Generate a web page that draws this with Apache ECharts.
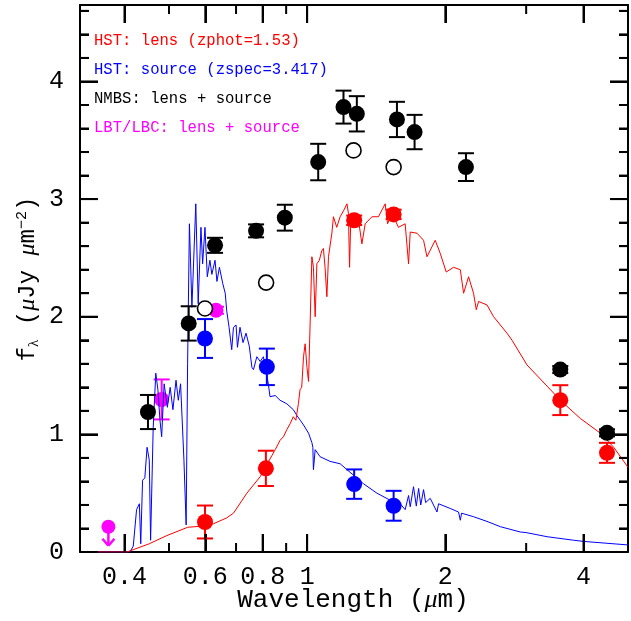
<!DOCTYPE html>
<html>
<head>
<meta charset="utf-8">
<script src="https://cdn.jsdelivr.net/npm/echarts@6/dist/echarts.min.js"></script>
<style>
html,body{margin:0;padding:0;background:#fff;overflow:hidden;}
#chart{width:631px;height:621px;}
</style>
</head>
<body>
<div id="chart"></div>
<script>
// ---- tick positions ----
const xMajorTicks = [0.4, 0.6, 0.8, 1, 2, 4];
const xMinorTicks = [0.5, 0.7, 0.9, 3];
const yMajorTicks = [0, 1, 2, 3, 4];
const yMinorTicks = [0.2, 0.4, 0.6, 0.8, 1.2, 1.4, 1.6, 1.8, 2.2, 2.4, 2.6, 2.8, 3.2, 3.4, 3.6, 3.8, 4.2, 4.4, 4.6];

// ---- NMBS: lens + source (filled black) ----
const nmbsLam  = [0.450, 0.552, 0.630, 0.774, 0.894, 1.057, 1.200, 1.283, 1.569, 1.714, 2.218, 3.56, 4.50];
const nmbsFlux = [1.19, 1.943, 2.607, 2.73, 2.842, 3.315, 3.782, 3.725, 3.677, 3.57, 3.272, 1.551, 1.013];
const nmbsErr  = [0.145, 0.146, 0.064, 0.055, 0.11, 0.155, 0.14, 0.15, 0.15, 0.146, 0.118, 0.03, 0.03];

// ---- NMBS open circles ----
const openLam  = [0.599, 0.814, 1.262, 1.543];
const openFlux = [2.07, 2.29, 3.414, 3.272];

// ---- HST: lens ----
const lensLam  = [0.599, 0.813, 1.266, 1.543, 3.56, 4.50];
const lensFlux = [0.255, 0.711, 2.82, 2.87, 1.291, 0.843];
const lensErr  = [0.14, 0.15, 0.04, 0.04, 0.127, 0.085];

// ---- HST: source ----
const srcLam  = [0.599, 0.817, 1.266, 1.543];
const srcFlux = [1.815, 1.574, 0.577, 0.393];
const srcErr  = [0.165, 0.155, 0.125, 0.127];

// ---- LBT/LBC ----
const lbtLam  = [0.482, 0.633];
const lbtFlux = [1.297, 2.055];
const lbtErr  = [0.17, 0.03];
const lbtLimLam  = [0.369];
const lbtLimFlux = [0.215];

// ---- source model spectrum (blue) ----
const blueSpecLam = [0.320,0.411,0.418,0.425,0.431,0.434,0.438,0.443,0.448,0.453,0.456,0.462,0.468,0.473,0.478,0.482,0.488,0.496,0.503,0.510,0.518,0.524,0.530,0.539,0.545,0.549,0.554,0.561,0.572,0.579,0.587,0.592,0.599,0.606,0.614,0.620,0.630,0.636,0.644,0.655,0.663,0.668,0.676,0.685,0.691,0.700,0.705,0.714,0.725,0.736,0.748,0.758,0.764,0.777,0.790,0.803,0.823,0.830,0.852,0.873,0.903,0.933,0.950,0.966,0.982,1.007,1.024,1.029,1.032,1.041,1.067,1.122,1.180,1.221,1.327,1.419,1.517,1.595,1.635,1.663,1.677,1.705,1.729,1.749,1.768,1.793,1.812,1.854,1.918,1.933,2.050,2.137,2.156,2.170,2.304,2.465,2.636,2.914,3.000,3.332,3.807,4.003,5.000];
const blueSpecFlux = [0,0,0.05,0.36,0.41,0.07,0.61,0.63,0.89,0.78,0.10,1.06,1.52,1.38,1.12,0.98,1.43,1.23,1.40,1.21,1.46,1.29,1.43,0.78,0.23,1.60,2.79,2.08,2.96,2.11,2.76,2.45,2.76,2.34,2.48,2.36,2.48,2.30,2.42,2.28,2.20,2.05,1.91,1.72,1.91,1.93,1.74,1.91,1.78,1.86,1.75,1.57,1.55,1.66,1.62,1.66,1.43,1.32,1.33,1.29,1.26,1.21,1.16,1.12,1.08,1.01,0.93,0.89,0.70,0.87,0.81,0.77,0.75,0.70,0.58,0.50,0.44,0.41,0.36,0.48,0.385,0.555,0.39,0.54,0.40,0.53,0.42,0.456,0.34,0.41,0.37,0.34,0.27,0.33,0.30,0.26,0.215,0.17,0.165,0.13,0.10,0.09,0.06];

// ---- lens model spectrum (red) ----
const redSpecLam = [0.320,0.405,0.418,0.453,0.495,0.549,0.592,0.625,0.668,0.691,0.739,0.790,0.838,0.852,0.873,0.888,0.903,0.918,0.933,0.945,0.957,0.965,0.973,0.982,0.990,0.999,1.007,1.015,1.024,1.032,1.041,1.050,1.063,1.076,1.085,1.094,1.104,1.113,1.132,1.141,1.160,1.180,1.200,1.221,1.230,1.237,1.245,1.270,1.294,1.316,1.338,1.384,1.430,1.479,1.497,1.530,1.581,1.635,1.663,1.677,1.735,1.793,1.824,1.901,1.949,2.009,2.084,2.156,2.192,2.247,2.304,2.336,2.363,2.465,2.548,2.725,2.795,3.013,3.332,3.561,3.937,4.354,4.655,5.000];
const redSpecFlux = [0,0,0.02,0.07,0.14,0.21,0.22,0.24,0.29,0.33,0.50,0.64,0.82,0.87,0.95,0.98,1.04,1.09,1.15,1.12,1.26,1.38,1.40,1.66,1.77,1.57,1.45,1.94,2.51,2.42,2.00,2.45,2.48,2.56,2.58,2.42,2.17,2.51,2.71,2.85,2.76,2.85,2.90,2.96,2.88,2.42,2.85,2.79,2.82,2.62,2.79,2.85,2.85,2.96,2.79,2.88,2.76,2.79,2.45,2.72,2.71,2.65,2.51,2.65,2.54,2.38,2.42,2.40,2.20,2.34,2.20,2.06,2.13,2.10,2.00,1.86,1.80,1.59,1.41,1.29,1.135,1.01,0.89,0.72];

const L = Math.log10;
const XMIN = L(0.32), XMAX = L(5), YMIN = 0, YMAX = 4.65;
const pairs = (lam, f) => lam.map((v, i) => [L(v), f[i]]);
const triples = (lam, f, e) => lam.map((v, i) => [L(v), f[i], e[i]]);

function errRender(color) {
  return function (params, api) {
    const x = api.value(0), y = api.value(1), e = api.value(2);
    const t = api.coord([x, y + e]), b = api.coord([x, y - e]);
    const hw = 8, st = {stroke: color, lineWidth: 2};
    return {type: 'group', children: [
      {type: 'line', shape: {x1: t[0], y1: t[1], x2: b[0], y2: b[1]}, style: st},
      {type: 'line', shape: {x1: t[0] - hw, y1: t[1], x2: t[0] + hw, y2: t[1]}, style: st},
      {type: 'line', shape: {x1: b[0] - hw, y1: b[1], x2: b[0] + hw, y2: b[1]}, style: st}
    ]};
  };
}
function arrowRender(color) {
  return function (params, api) {
    const p = api.coord([api.value(0), api.value(1)]);
    const tip = p[1] + 19, st = {stroke: color, lineWidth: 2.5};
    return {type: 'group', children: [
      {type: 'line', shape: {x1: p[0], y1: p[1], x2: p[0], y2: tip}, style: st},
      {type: 'line', shape: {x1: p[0] - 6, y1: tip - 7, x2: p[0], y2: tip}, style: st},
      {type: 'line', shape: {x1: p[0] + 6, y1: tip - 7, x2: p[0], y2: tip}, style: st}
    ]};
  };
}

const FONT = '"Liberation Mono", "Courier New", monospace';
const fmtX = v => { const w = Math.pow(10, v); const r = Math.round(w * 10) / 10; return Number.isInteger(r) ? String(r) : r.toFixed(1); };

function xAx(pos, labels) {
  return {
    type: 'value', min: XMIN, max: XMAX, position: pos,
    axisLine: {show: true, onZero: false, lineStyle: {color: '#000', width: 2}}, splitLine: {show: false},
    axisTick: {show: true, inside: true, length: 18, customValues: xMajorTicks.map(L), lineStyle: {color: '#000', width: 2}},
    axisLabel: labels ? {show: true, customValues: xMajorTicks.map(L), formatter: fmtX, margin: 13,
      fontFamily: FONT, fontSize: 25, color: '#000'} : {show: false}
  };
}
function yAx(pos, labels) {
  return {
    type: 'value', min: YMIN, max: YMAX, interval: 1, position: pos,
    axisLine: {show: true, onZero: false, lineStyle: {color: '#000', width: 2}}, splitLine: {show: false},
    axisTick: {show: true, inside: true, length: 18, lineStyle: {color: '#000', width: 2}},
    minorTick: {show: true, splitNumber: 5, length: 9, lineStyle: {color: '#000', width: 2}},
    axisLabel: labels ? {show: true, margin: 16, fontFamily: FONT, fontSize: 25, color: '#000',
      formatter: v => (v > 4.5 ? '' : String(v))} : {show: false}
  };
}
const solid = c => ({color: c, opacity: 1});

const textGraphics = [
  {type: 'text', left: 94, top: 33, z: 50, style: {text: 'HST: lens (zphot=1.53)', fill: '#ff0000', font: '15.6px ' + FONT}},
  {type: 'text', left: 94, top: 62, z: 50, style: {text: 'HST: source (zspec=3.417)', fill: '#0000ff', font: '15.6px ' + FONT}},
  {type: 'text', left: 94, top: 91, z: 50, style: {text: 'NMBS: lens + source', fill: '#000', font: '15.6px ' + FONT}},
  {type: 'text', left: 94, top: 120, z: 50, style: {text: 'LBT/LBC: lens + source', fill: '#ff00ff', font: '15.6px ' + FONT}},
  {type: 'text', x: 353, y: 600, z: 50, style: {
    text: '{a|Wavelength (}{i|μ}{a|m)}', align: 'center', verticalAlign: 'middle',
    rich: {a: {font: '26px ' + FONT, fill: '#000'}, i: {font: 'italic 26px "Liberation Serif", serif', fill: '#000'}}}},
  {type: 'text', x: 28, y: 279, rotation: Math.PI / 2, z: 50, style: {
    text: '{a|f}{s|λ}{a| (}{i|μ}{a|Jy }{i|μ}{a|m}{p|−2}{a|)}', align: 'center', verticalAlign: 'middle',
    rich: {
      a: {font: '24px ' + FONT, fill: '#000', lineHeight: 34, verticalAlign: 'middle'},
      i: {font: 'italic 24px "Liberation Serif", serif', fill: '#000', lineHeight: 34, verticalAlign: 'middle'},
      s: {font: '15px "Liberation Serif", serif', fill: '#000', lineHeight: 34, verticalAlign: 'bottom', padding: [0, 0, 3, 0]},
      p: {font: '15px ' + FONT, fill: '#000', lineHeight: 34, verticalAlign: 'top', padding: [4, 0, 0, 0]}
    }}}
];

const chart = echarts.init(document.getElementById('chart'));
chart.setOption({
  animation: false,
  backgroundColor: '#fff',
  grid: {left: 80, right: 3, top: 5, bottom: 69},
  xAxis: [xAx('bottom', true), xAx('top', false)],
  yAxis: [yAx('left', true), yAx('right', false)],
  series: [
    {type: 'custom', name: 'lbtErr', renderItem: errRender('#ff00ff'), data: triples(lbtLam, lbtFlux, lbtErr), z: 2},
    {type: 'custom', name: 'lbtLim', renderItem: arrowRender('#ff00ff'), data: pairs(lbtLimLam, lbtLimFlux), z: 2},
    {type: 'scatter', name: 'lbtLimPt', data: pairs(lbtLimLam, lbtLimFlux), symbolSize: 14, itemStyle: solid('#ff00ff'), z: 2},
    {type: 'scatter', name: 'lbt', data: pairs(lbtLam, lbtFlux), symbolSize: 15, itemStyle: solid('#ff00ff'), z: 2},
    {type: 'line', name: 'srcSpec', data: pairs(blueSpecLam, blueSpecFlux), showSymbol: false, lineStyle: {color: '#0000ff', width: 1}, z: 3},
    {type: 'line', name: 'lensSpec', data: pairs(redSpecLam, redSpecFlux), showSymbol: false, lineStyle: {color: '#ff0000', width: 1}, z: 3},
    {type: 'custom', name: 'nmbsErr', renderItem: errRender('#000'), data: triples(nmbsLam, nmbsFlux, nmbsErr), z: 4},
    {type: 'scatter', name: 'nmbs', data: pairs(nmbsLam, nmbsFlux), symbolSize: 16, itemStyle: solid('#000'), z: 4},
    {type: 'scatter', name: 'open', data: pairs(openLam, openFlux), symbolSize: 15, itemStyle: {color: '#fff', opacity: 1, borderColor: '#000', borderWidth: 1.6}, z: 5},
    {type: 'custom', name: 'lensErr', renderItem: errRender('#ff0000'), data: triples(lensLam, lensFlux, lensErr), z: 5},
    {type: 'scatter', name: 'lens', data: pairs(lensLam, lensFlux), symbolSize: 16, itemStyle: solid('#ff0000'), z: 5},
    {type: 'custom', name: 'srcErr', renderItem: errRender('#0000ff'), data: triples(srcLam, srcFlux, srcErr), z: 5},
    {type: 'scatter', name: 'src', data: pairs(srcLam, srcFlux), symbolSize: 16, itemStyle: solid('#0000ff'), z: 5}
  ]
});

// frame ticks on all four sides, positioned through the chart's own axis scales
const tickGraphics = [];
const TS = {stroke: '#000', lineWidth: 2};
function addXTick(v, len) {
  const b = chart.convertToPixel({xAxisIndex: 0, yAxisIndex: 0}, [L(v), YMIN]);
  const t = chart.convertToPixel({xAxisIndex: 0, yAxisIndex: 0}, [L(v), YMAX]);
  tickGraphics.push({type: 'line', z: 60, silent: true, shape: {x1: b[0], y1: b[1], x2: b[0], y2: b[1] - len}, style: TS});
  tickGraphics.push({type: 'line', z: 60, silent: true, shape: {x1: t[0], y1: t[1], x2: t[0], y2: t[1] + len}, style: TS});
}
function addYTick(v, len) {
  const l = chart.convertToPixel({xAxisIndex: 0, yAxisIndex: 0}, [XMIN, v]);
  const r = chart.convertToPixel({xAxisIndex: 0, yAxisIndex: 0}, [XMAX, v]);
  tickGraphics.push({type: 'line', z: 60, silent: true, shape: {x1: l[0], y1: l[1], x2: l[0] + len, y2: l[1]}, style: TS});
  tickGraphics.push({type: 'line', z: 60, silent: true, shape: {x1: r[0], y1: r[1], x2: r[0] - len, y2: r[1]}, style: TS});
}
xMajorTicks.forEach(v => addXTick(v, 18));
xMinorTicks.forEach(v => addXTick(v, 9));
yMajorTicks.forEach(v => addYTick(v, 18));
yMinorTicks.forEach(v => addYTick(v, 9));

chart.setOption({graphic: textGraphics.concat(tickGraphics)});
</script>
</body>
</html>
